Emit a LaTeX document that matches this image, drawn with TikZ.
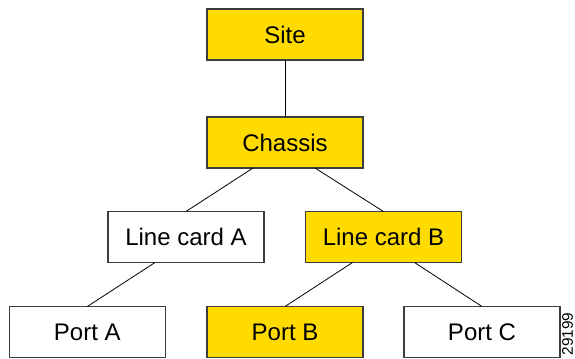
\documentclass[tikz,border=0pt]{standalone}
\usepackage{fontspec}
\setmainfont{Liberation Sans}
\usepackage{tikz}
\usetikzlibrary{calc}
\definecolor{siteyellow}{RGB}{255,219,0}
\definecolor{boxgray}{RGB}{60,60,60}

\begin{document}
\begin{tikzpicture}[x=0.75pt,y=0.75pt,yscale=-1,xscale=1,
  obj/.style={draw=boxgray,line width=0.9pt,fill=white,minimum width=117pt,minimum height=38.25pt,inner sep=0pt,outer sep=0pt,font=\fontsize{18}{21}\selectfont},
  sel/.style={obj,fill=siteyellow},
  link/.style={draw=black,line width=0.6pt}]
\useasboundingbox (0,0) rectangle (575,358);

%Shape: Rectangle [Site]
\draw (285,34.5) node [sel] (site) {Site};
%Shape: Rectangle [Chassis]
\draw (285,142.5) node [sel] (chassis) {Chassis};
%Shape: Rectangle [Line cards]
\draw (186,237) node [obj] (lca) {Line card A};
\draw (383.5,237) node [sel] (lcb) {Line card B};
%Shape: Rectangle [Ports]
\draw (87.3,332) node [obj] (porta) {Port A};
\draw (285,332) node [sel] (portb) {Port B};
\draw (482,332) node [obj] (portc) {Port C};

%Straight Lines
\draw [link] (site.south) -- (chassis.north);
\draw [link] ($(chassis.south)+(-32,0)$) -- (lca.north);
\draw [link] ($(chassis.south)+(30,0)$) -- (lcb.north);
\draw [link] ($(lca.south)+(-31,0)$) -- (porta.north);
\draw [link] ($(lcb.south)+(-31,0)$) -- (portb.north);
\draw [link] ($(lcb.south)+(31,0)$) -- (portc.north);

% Text Node
\draw (567.5,334) node [rotate=90,inner sep=0pt,font=\fontsize{11.5}{13}\selectfont] (figid) {29199};

\end{tikzpicture}
\end{document}
